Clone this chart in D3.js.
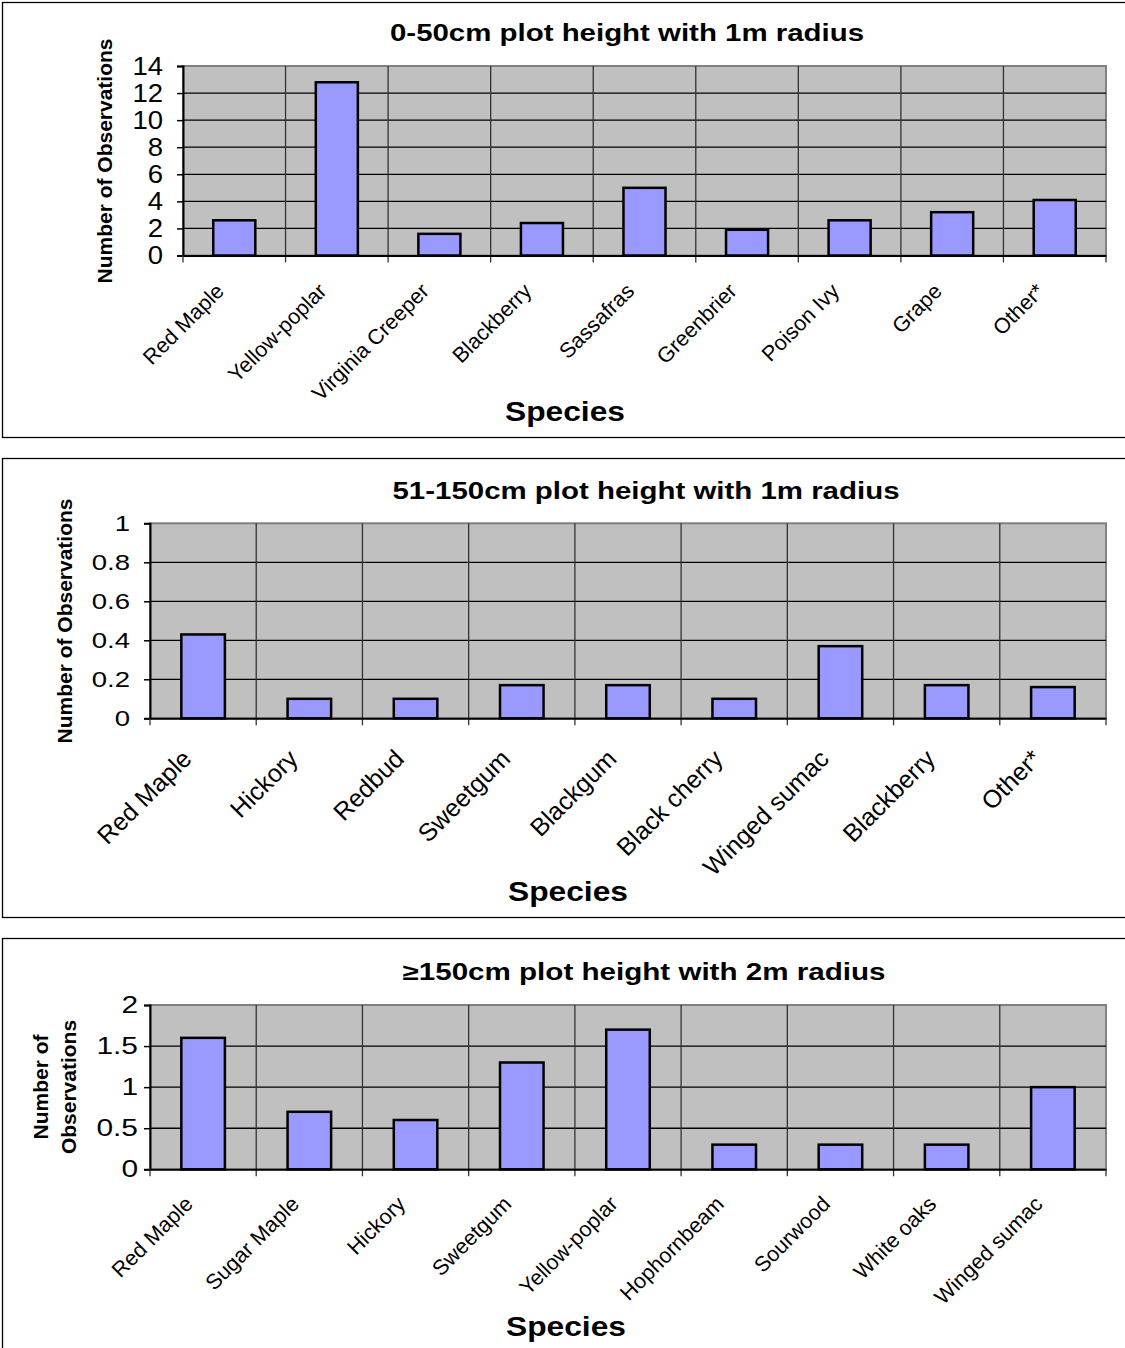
<!DOCTYPE html>
<html><head><meta charset="utf-8">
<script src="https://cdn.jsdelivr.net/npm/d3@7"></script>
<style>body{margin:0;background:#fff}svg{display:block;font-family:"Liberation Sans",Arial,sans-serif}</style>
</head><body>
<svg id="c" width="1125" height="1348"></svg>
<script>
// Panel 1: 0-50cm plot height with 1m radius
const species1 = ["Red Maple","Yellow-poplar","Virginia Creeper","Blackberry","Sassafras","Greenbrier","Poison Ivy","Grape","Other*"];
const values1 = [2.6, 12.8, 1.6, 2.4, 5.0, 1.9, 2.6, 3.2, 4.1];
const ticks1 = [0,2,4,6,8,10,12,14];
// Panel 2: 51-150cm plot height with 1m radius
const species2 = ["Red Maple","Hickory","Redbud","Sweetgum","Blackgum","Black cherry","Winged sumac","Blackberry","Other*"];
const values2 = [0.43, 0.10, 0.10, 0.17, 0.17, 0.10, 0.37, 0.17, 0.16];
const ticks2 = [0,0.2,0.4,0.6,0.8,1];
// Panel 3: ≥150cm plot height with 2m radius
const species3 = ["Red Maple","Sugar Maple","Hickory","Sweetgum","Yellow-poplar","Hophornbeam","Sourwood","White oaks","Winged sumac"];
const values3 = [1.6, 0.7, 0.6, 1.3, 1.7, 0.3, 0.3, 0.3, 1.0];
const ticks3 = [0,0.5,1,1.5,2];

const titles = ["0-50cm plot height with 1m radius","51-150cm plot height with 1m radius","\u2265150cm plot height with 2m radius"];

const svg = d3.select("#c");

function stretch(sel, sx){
  sel.each(function(){
    const n = this.getComputedTextLength();
    d3.select(this).attr("textLength", n*sx).attr("lengthAdjust","spacingAndGlyphs");
  });
}

const panels = [
  {frame:[2,2,1130,435], title:titles[0], titleX:627, titleY:41, titleW:474, cats:species1, vals:values1, ticks:ticks1, max:14,
   x0:183, x1:1106, y0:66, y1:255.5, tickFont:25, tickSx:1.1, tickPad:14, labFont:21.5, labDx:-9, labDy:37,
   yTitle:["Number of Observations"], yTitleX:[112], yTitleY:161, yTitleFont:21, specY:421, specX:565},
  {frame:[2,458,1130,459], title:titles[1], titleX:646, titleY:499, titleW:507, cats:species2, vals:values2, ticks:ticks2, max:1,
   x0:150, x1:1106, y0:523.3, y1:718.3, tickFont:22, tickSx:1.25, tickPad:14, labFont:25, labDx:-10, labDy:42,
   yTitle:["Number of Observations"], yTitleX:[72], yTitleY:621, yTitleFont:21, specY:901, specX:568},
  {frame:[2,938,1130,420], title:titles[2], titleX:644, titleY:980, titleW:483, cats:species3, vals:values3, ticks:ticks3, max:2,
   x0:150, x1:1106, y0:1005, y1:1169.3, tickFont:23, tickSx:1.3, tickPad:6, labFont:21.5, labDx:-9, labDy:36,
   yTitle:["Number of","Observations"], yTitleX:[48,76], yTitleY:1087, yTitleFont:21, specY:1336, specX:566}
];

panels.forEach(p => {
  const g = svg.append("g");
  g.append("rect").attr("x",p.frame[0]+0.5).attr("y",p.frame[1]+0.5).attr("width",p.frame[2]).attr("height",p.frame[3])
    .attr("fill","#fff").attr("stroke","#000").attr("stroke-width",1.3);

  const x = d3.scaleBand().domain(p.cats).range([p.x0,p.x1]).paddingInner(0).paddingOuter(0);
  const y = d3.scaleLinear().domain([0,p.max]).range([p.y1,p.y0]);

  g.append("rect").attr("x",p.x0).attr("y",p.y0).attr("width",p.x1-p.x0).attr("height",p.y1-p.y0)
    .attr("fill","#c0c0c0").attr("stroke","#808080").attr("stroke-width",2);

  g.append("g").selectAll("line").data(p.ticks.filter(t=>t>0 && t<p.max)).join("line")
    .attr("x1",p.x0).attr("x2",p.x1).attr("y1",d=>y(d)).attr("y2",d=>y(d))
    .attr("stroke","#000").attr("stroke-width",1.3);
  g.append("g").selectAll("line").data(p.cats.slice(1)).join("line")
    .attr("x1",d=>x(d)).attr("x2",d=>x(d)).attr("y1",p.y0).attr("y2",p.y1+7)
    .attr("stroke","#333").attr("stroke-width",1.3);

  const bw = x.bandwidth()*0.41;
  g.append("g").selectAll("rect").data(p.cats.map((c,i)=>({c,v:p.vals[i]}))).join("rect")
    .attr("x",d=>x(d.c)+x.bandwidth()/2-bw/2).attr("width",bw)
    .attr("y",d=>y(d.v)).attr("height",d=>y(0)-y(d.v))
    .attr("fill","#9999ff").attr("stroke","#000").attr("stroke-width",2.5);

  const ya = d3.axisLeft(y).tickValues(p.ticks).tickSize(6).tickPadding(p.tickPad).tickFormat(d3.format("~g"));
  const yg = g.append("g").attr("transform",`translate(${p.x0},0)`).call(ya);
  yg.select(".domain").attr("stroke","#000").attr("stroke-width",2);
  yg.selectAll(".tick line").attr("stroke","#000").attr("stroke-width",1.5);
  yg.selectAll(".tick text").attr("font-size",p.tickFont).attr("fill","#000").attr("font-family","Liberation Sans, Arial, sans-serif");
  stretch(yg.selectAll(".tick text"), p.tickSx);

  const xa = d3.axisBottom(x).tickSize(0).tickFormat(()=>"");
  const xg = g.append("g").attr("transform",`translate(0,${p.y1})`).call(xa);
  xg.select(".domain").attr("stroke","#000").attr("stroke-width",2);
  g.append("g").selectAll("line").data([p.x0, p.x1]).join("line")
    .attr("x1",d=>d).attr("x2",d=>d).attr("y1",p.y1).attr("y2",p.y1+7).attr("stroke","#333").attr("stroke-width",1.3);

  g.append("g").selectAll("text").data(p.cats).join("text")
    .attr("transform",d=>`translate(${x(d)+x.bandwidth()/2+p.labDx},${p.y1+p.labDy}) rotate(-45)`)
    .attr("text-anchor","end").attr("font-size",p.labFont).attr("fill","#000")
    .text(d=>d);

  g.append("text").attr("x",p.titleX).attr("y",p.titleY).attr("text-anchor","middle")
    .attr("font-size",23).attr("font-weight","bold")
    .attr("textLength",p.titleW).attr("lengthAdjust","spacingAndGlyphs").text(p.title);
  g.append("text").attr("x",p.specX).attr("y",p.specY).attr("text-anchor","middle")
    .attr("font-size",27).attr("font-weight","bold")
    .attr("textLength",120).attr("lengthAdjust","spacingAndGlyphs").text("Species");
  p.yTitle.forEach((t,i)=>{
    g.append("text").attr("transform",`translate(${p.yTitleX[i]},${p.yTitleY}) rotate(-90)`)
      .attr("text-anchor","middle").attr("font-size",p.yTitleFont).attr("font-weight","bold").text(t);
  });
});
</script>
</body></html>
